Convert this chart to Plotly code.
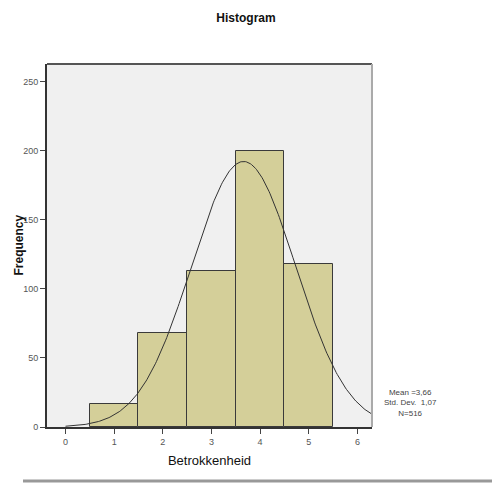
import numpy as np
import plotly.graph_objects as go

# Data
categories = [1, 2, 3, 4, 5]
frequencies = [17, 68, 113, 200, 118]
stat_mean = 3.66
stat_sd = 1.07
stat_n = 516
x_ticks = [0, 1, 2, 3, 4, 5, 6]
y_ticks = [0, 50, 100, 150, 200, 250]

FONT = "Liberation Sans Narrow, Arial Narrow, Liberation Sans, Arial, sans-serif"

W, H = 492, 483
L, R, T, B = 47, 372, 64, 427

fig = go.Figure()
fig.add_trace(go.Bar(
    x=categories, y=frequencies, width=1.0,
    marker=dict(color="#d4cf99", line=dict(color="#3a3a3a", width=1)),
    hoverinfo="x+y",
))

# fitted normal curve from displayed statistics
xs = np.linspace(0, 6.35, 300)
ys = stat_n * 1.0 * np.exp(-0.5 * ((xs - stat_mean) / stat_sd) ** 2) / (stat_sd * np.sqrt(2 * np.pi))
fig.add_trace(go.Scatter(x=xs, y=ys, mode="lines", line=dict(color="#333333", width=1)))

pw, ph = R - L, B - T
def px(x): return (x - L) / pw
def py(y): return (B - y) / ph

shapes = [
    dict(type="line", xref="paper", yref="paper", x0=0, x1=1, y0=1, y1=1, line=dict(color="#555555", width=2)),
    dict(type="line", xref="paper", yref="paper", x0=1, x1=1, y0=0, y1=1, line=dict(color="#aaaaaa", width=2)),
    dict(type="line", xref="paper", yref="paper", x0=px(23), x1=px(492), y0=py(481), y1=py(481),
         line=dict(color="#999999", width=3)),
]

fig.update_layout(
    width=W, height=H,
    margin=dict(l=L, r=W - R, t=T, b=H - B),
    paper_bgcolor="white", plot_bgcolor="#f0f0f0",
    showlegend=False, bargap=0,
    title=dict(text="<b>Histogram</b>", x=0.5, xref="container", xanchor="center",
               y=1 - 18 / H, yref="container", yanchor="middle",
               font=dict(family=FONT, size=12, color="#111111")),
    font=dict(family=FONT),
    shapes=shapes,
)
fig.update_xaxes(
    range=[-0.38, 6.3], tickmode="array", tickvals=x_ticks, ticktext=[str(v) for v in x_ticks],
    ticks="outside", ticklen=5, tickcolor="#444444", showgrid=False, zeroline=False,
    showline=True, linecolor="#333333", linewidth=2,
    tickfont=dict(family=FONT, size=9, color="#555555"),
    title=dict(text="Betrokkenheid", font=dict(family=FONT, size=13, color="#111111"), standoff=10),
)
fig.update_yaxes(
    range=[0, 263], tickmode="array", tickvals=y_ticks, ticktext=[str(v) for v in y_ticks],
    ticks="outside", ticklen=5, tickcolor="#444444", showgrid=False, zeroline=False,
    showline=True, linecolor="#333333", linewidth=2,
    tickfont=dict(family=FONT, size=9, color="#555555"),
)

fig.add_annotation(
    xref="paper", yref="paper", x=px(18), y=py(245.5), xanchor="center", yanchor="middle",
    text="<b>Frequency</b>", textangle=-90, showarrow=False,
    font=dict(family=FONT, size=12, color="#111111"),
)

mean_txt = f"{stat_mean:.2f}".replace(".", ",")
sd_txt = f"{stat_sd:.2f}".replace(".", ",")
fig.add_annotation(
    xref="paper", yref="paper", x=px(410), y=py(403), xanchor="center", yanchor="middle",
    text=f"Mean ={mean_txt}<br>Std. Dev.  {sd_txt}<br>N={stat_n}",
    showarrow=False, align="center",
    font=dict(family=FONT, size=8, color="#444444"),
)

fig.write_html("out.html")
